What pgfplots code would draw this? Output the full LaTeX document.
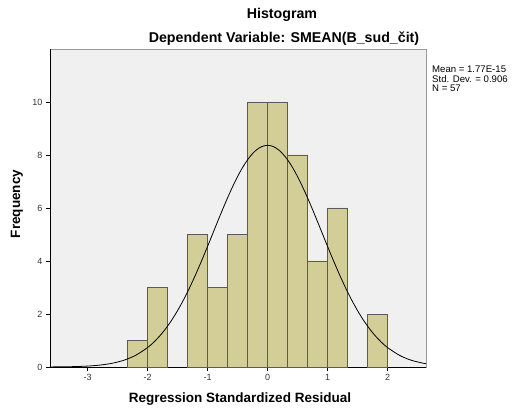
\documentclass[border=0pt]{standalone}
\usepackage{pgfplots}
\pgfplotsset{compat=1.18}
\usepackage{fontspec}
\setmainfont{Liberation Sans}
\definecolor{bgc}{RGB}{240,240,240}
\definecolor{barc}{RGB}{211,206,152}
\definecolor{edgec}{RGB}{90,90,90}
\begin{document}
\begin{tikzpicture}[x=1pt,y=1pt]
\path[use as bounding box] (0,0) rectangle (514,412);
\begin{axis}[
  at={(50pt,45pt)}, anchor=south west,
  scale only axis, width=376pt, height=318pt,
  xmin=-3.625, xmax=2.64, ymin=0, ymax=12,
  axis lines*=left,
  axis line style={black, line width=0.8pt},
  axis background/.style={fill=bgc, draw=gray!80, line width=0.8pt},
  xtick={-3,-2,-1,0,1,2}, ytick={0,2,4,6,8,10},
  tick align=outside, major tick length=4pt,
  tick style={black, line width=0.6pt},
  ticklabel style={font=\fontsize{9}{10}\selectfont, text=black!80},
  /pgf/number format/assume math mode=true,
  clip=false,
]
\addplot[ybar interval, fill=barc, draw=edgec, line width=0.6pt] coordinates {(-2.3333,1) (-2.0,3) (-1.6667,3)};
\addplot[ybar interval, fill=barc, draw=edgec, line width=0.6pt] coordinates {(-1.3333,5) (-1.0,3) (-0.6667,5) (-0.3333,10) (0,10) (0.3333,8) (0.6667,4) (1.0,6) (1.3333,6)};
\addplot[ybar interval, fill=barc, draw=edgec, line width=0.6pt] coordinates {(1.6667,2) (2.0,2)};
\addplot[smooth, black, line width=0.8pt, mark=none] coordinates {
(-3.625,0.0028) (-3.4,0.0073) (-3.2,0.0164) (-3.0,0.0348) (-2.8,0.0705) (-2.6,0.1362)
(-2.4,0.2504) (-2.2,0.4388) (-2.0,0.7318) (-1.9,0.9279) (-1.8,1.1629) (-1.7,1.4387)
(-1.6,1.7594) (-1.5,2.125) (-1.4,2.535) (-1.3,2.988) (-1.2,3.480) (-1.1,4.003)
(-1.0,4.549) (-0.9,5.108) (-0.8,5.666) (-0.7,6.207) (-0.6,6.719) (-0.5,7.184)
(-0.4,7.589) (-0.3,7.920) (-0.2,8.164) (-0.1,8.315) (0,8.366)
(0.1,8.315) (0.2,8.164) (0.3,7.920) (0.4,7.589) (0.5,7.184) (0.6,6.719)
(0.7,6.207) (0.8,5.666) (0.9,5.108) (1.0,4.549) (1.1,4.003) (1.2,3.480)
(1.3,2.988) (1.4,2.535) (1.5,2.125) (1.6,1.7594) (1.7,1.4387) (1.8,1.1629)
(1.9,0.9279) (2.0,0.7318) (2.2,0.4388) (2.4,0.2504) (2.64,0.1199)};
\end{axis}
\node[font=\fontsize{14.2}{16}\selectfont\bfseries] at (282,397) {Histogram};
\node[font=\fontsize{14.2}{16}\selectfont\bfseries] at (284,373) {Dependent Variable: SMEAN(B\_sud\_čit)};
\node[font=\fontsize{13.5}{15}\selectfont\bfseries] at (240,13) {Regression Standardized Residual};
\node[font=\fontsize{13.5}{15}\selectfont\bfseries, rotate=90] at (17,208) {Frequency};
\node[font=\fontsize{9.6}{9.5}\selectfont, align=left, anchor=north west, inner sep=0pt] at (432,346) {Mean = 1.77E-15\\Std. Dev. = 0.906\\N = 57};
\end{tikzpicture}
\end{document}
